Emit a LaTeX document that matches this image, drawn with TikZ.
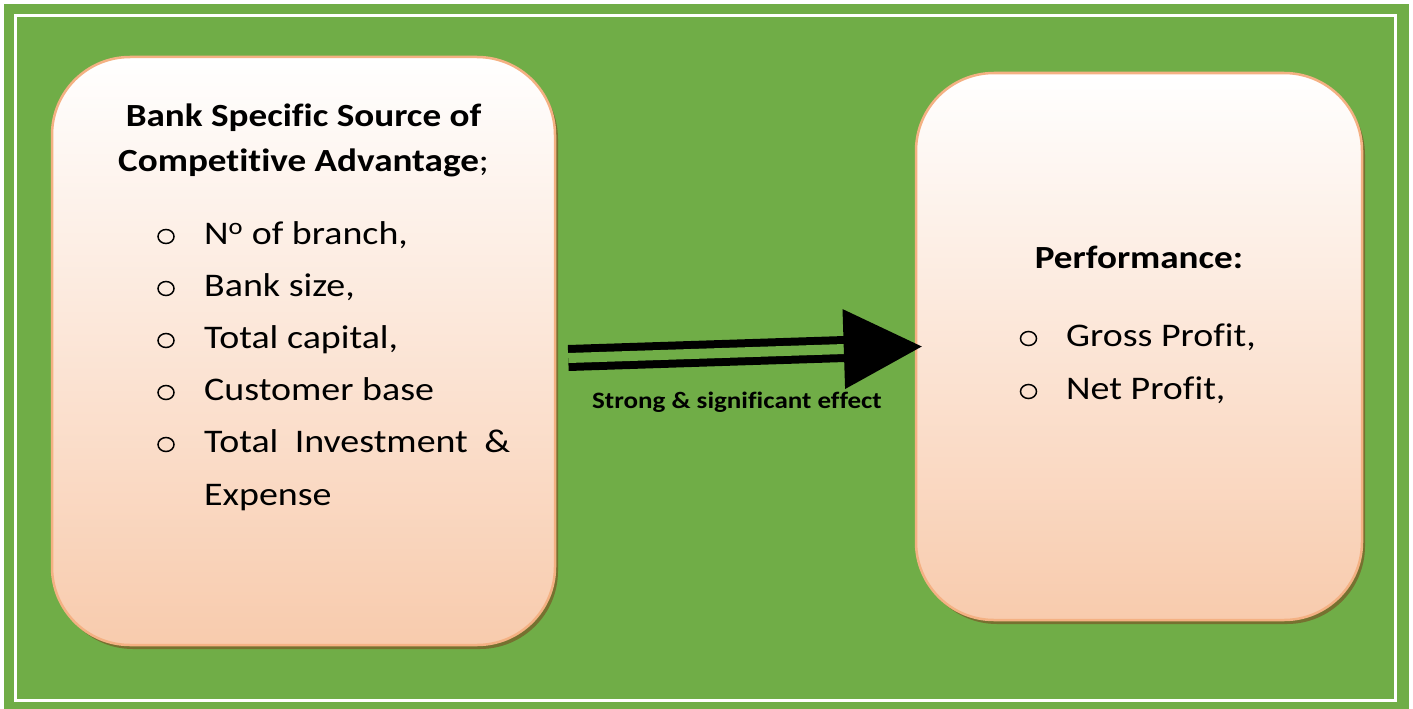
\documentclass[tikz,border=0pt]{standalone}
\usepackage{fontspec}
\setmainfont{Carlito}[FakeStretch=1.15, Ligatures=NoCommon]
\usetikzlibrary{calc,shadows}
\definecolor{bggreen}{HTML}{70AD47}
\definecolor{peach}{HTML}{F8CBAD}
\definecolor{peachline}{HTML}{F4B183}
\definecolor{shadowcol}{RGB}{118,113,48}
\begin{document}
\begin{tikzpicture}[x=1pt,y=-1pt,
  box/.style={rectangle, rounded corners=78pt, draw=peachline, line width=2.5pt,
    top color=white, bottom color=peach, inner sep=0pt,
    general shadow={fill=shadowcol, shadow xshift=3pt, shadow yshift=-4pt}},
  txt/.style={inner sep=0pt, font=\fontsize{33}{45}\selectfont},
  ttl/.style={inner sep=0pt, font=\fontsize{32.3}{45}\selectfont\bfseries},
  lbl/.style={inner sep=0pt, font=\fontsize{23.5}{27}\selectfont\bfseries},
  bulletmark/.style={draw=black, line width=1.5pt}]
\useasboundingbox (0,0) rectangle (1413,709);
\fill[bggreen] (4,4) rectangle (1409,709);
\draw[white, line width=3pt] (15.5,15.5) rectangle (1395.5,700.5);

\node[box, minimum width=503pt, minimum height=588pt] (lbox) at (303.5,351) {};
\node[box, minimum width=446pt, minimum height=547pt] (rbox) at (1139,346.5) {};

% left box text
\node[ttl, anchor=base] (t1) at (303.5,126) {Bank Specific Source of};
\node[ttl, anchor=base] (t2) at (303.5,171) {Competitive Advantage\mdseries;};
\node[txt, anchor=base west] (i1) at (204,244) {N\textsuperscript{o} of branch,};
\node[txt, anchor=base west] (i2) at (204,296) {Bank size,};
\node[txt, anchor=base west] (i3) at (204,348) {Total capital,};
\node[txt, anchor=base west] (i4) at (204,400) {Customer base};
\node[txt, anchor=base west] (i5) at (204,452) {\makebox[306pt][s]{Total Investment \&}};
\node[txt, anchor=base west] (i6) at (204,505) {Expense};
\foreach \n in {i1,i2,i3,i4,i5}
  \draw[bulletmark] ($(\n.base west)+(-38,-7.5)$) ellipse[x radius=8pt, y radius=7pt];

% right box text
\node[ttl, anchor=base] (p0) at (1139,268) {Performance:};
\node[txt, anchor=base west] (p1) at (1066,346) {Gross Profit,};
\node[txt, anchor=base west] (p2) at (1066,399) {Net Profit,};
\foreach \n in {p1,p2}
  \draw[bulletmark] ($(\n.base west)+(-37.5,-7.5)$) ellipse[x radius=8pt, y radius=7pt];

% arrow
\coordinate (a1) at ($(lbox.east)+(12,7)$);
\coordinate (tip) at ($(rbox.west)+(7,0)$);
\coordinate (base) at ($(tip)!78pt!(a1)$);
\coordinate (base2) at ($(tip)!75pt!(a1)$);
\draw[draw=black, double=bggreen, double distance=10pt, line width=8pt] (a1) -- (base2);
\fill[black] (tip) -- ($(base)!40pt!90:(tip)$) -- ($(base)!40pt!-90:(tip)$) -- cycle;
\node[lbl] (lab) at (737,402) {Strong \& significant effect};
\end{tikzpicture}
\end{document}
